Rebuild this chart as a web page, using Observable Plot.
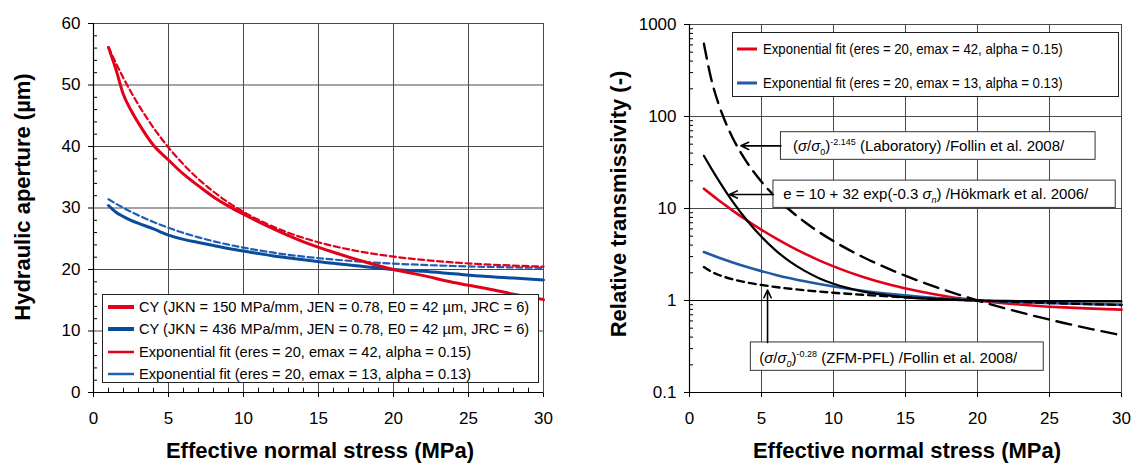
<!DOCTYPE html>
<html>
<head>
<meta charset="utf-8">
<script src="https://cdn.jsdelivr.net/npm/d3@7"></script>
<script src="https://cdn.jsdelivr.net/npm/@observablehq/plot@0.6"></script>
<style>
  html, body { margin: 0; padding: 0; background: #fff; }
  body { width: 1139px; height: 465px; position: relative; overflow: hidden; font-family: "Liberation Sans", Arial, sans-serif; }
  .panel { position: absolute; top: 0; }
  .legend { position: absolute; background: #fff; border: 1px solid #222; box-sizing: border-box; }
  .legend .row { position: absolute; left: 0; right: 0; height: 20px; display: flex; align-items: center; white-space: nowrap; }
  .legend .row svg { flex: none; }
  .legendL { font: 14.6px "Liberation Sans", Arial, sans-serif; }
  .legendR { font: 14px "Liberation Sans", Arial, sans-serif; }
  .legendR span { display: inline-block; transform: scaleX(0.94); transform-origin: 0 50%; }
</style>
</head>
<body>
<div id="L" class="panel" style="left:0px"></div>
<div id="R" class="panel" style="left:570px"></div>
<script>
// ---------------- data ----------------
const stress = [1, 1.5, 2, 2.5, 3, 4, 5, 6, 7, 8, 9, 10, 12, 14, 16, 18, 20, 22, 24, 26, 28, 30];

// Left panel: hydraulic aperture (µm)
const cyRed   = [56.1, 52.5, 48.4, 45.9, 43.8, 40.2, 37.8, 35.5, 33.6, 31.8, 30.3, 29.0, 26.6, 24.5, 22.8, 21.3, 20.0, 19.0, 17.9, 17.0, 16.0, 15.1];
const cyBlue  = [30.4, 29.3, 28.6, 28.0, 27.5, 26.6, 25.6, 24.9, 24.4, 23.9, 23.4, 23.0, 22.2, 21.6, 21.0, 20.5, 20.0, 19.7, 19.3, 18.9, 18.6, 18.3];
const fitRed  = [56.15, 53.54, 51.11, 48.87, 46.77, 43.05, 39.84, 37.08, 34.70, 32.65, 30.88, 29.37, 26.94, 25.14, 23.81, 22.82, 22.09, 21.56, 21.15, 20.85, 20.63, 20.47];
const fitBlue = [31.42, 30.70, 30.02, 29.39, 28.79, 27.72, 26.78, 25.95, 25.23, 24.59, 24.04, 23.55, 22.73, 22.10, 21.62, 21.25, 20.96, 20.74, 20.57, 20.44, 20.34, 20.26];

// Right panel: relative transmissivity (-)
const tRed      = [16.42, 14.24, 12.39, 10.83, 9.49, 7.40, 5.87, 4.73, 3.88, 3.23, 2.73, 2.35, 1.81, 1.47, 1.25, 1.10, 1.00, 0.930, 0.878, 0.841, 0.815, 0.796];
const tBlue     = [3.368, 3.142, 2.938, 2.757, 2.592, 2.313, 2.086, 1.898, 1.744, 1.615, 1.509, 1.418, 1.275, 1.172, 1.097, 1.042, 1.00, 0.969, 0.945, 0.927, 0.914, 0.903];
const tHokmark  = [37.41, 27.44, 20.45, 15.48, 11.90, 7.40, 4.92, 3.49, 2.63, 2.10, 1.75, 1.52, 1.256, 1.124, 1.056, 1.020, 1.00, 0.990, 0.984, 0.981, 0.979, 0.978];
const tLab      = [618, 258.9, 139.6, 86.5, 58.5, 31.57, 19.56, 13.23, 9.51, 7.14, 5.54, 4.42, 2.99, 2.15, 1.614, 1.254, 1.00, 0.815, 0.676, 0.570, 0.486, 0.419];
const tPFL      = [2.31, 2.065, 1.905, 1.790, 1.701, 1.569, 1.474, 1.401, 1.342, 1.292, 1.251, 1.214, 1.154, 1.105, 1.064, 1.030, 1.00, 0.974, 0.950, 0.929, 0.910, 0.893];

// ticks
const xTicks  = [0, 5, 10, 15, 20, 25, 30];
const yTicksL = [0, 10, 20, 30, 40, 50, 60];
const yTicksR = [0.1, 1, 10, 100, 1000];
const xMinorL = d3.range(1, 30).filter(d => d % 5 !== 0);
const yMinorL = d3.range(2, 60, 2).filter(d => d % 10 !== 0);
const yMinorR = [0.1, 1, 10, 100].flatMap(b => d3.range(2, 10).map(k => +(b * k).toPrecision(3)));

// labels
const xTitle = "Effective normal stress (MPa)";
const yTitleL = "Hydraulic aperture (µm)";
const yTitleR = "Relative transmissivity (-)";
const legendLeft = [
  {label: "CY (JKN = 150 MPa/mm, JEN = 0.78, E0 = 42 µm, JRC = 6)", color: "#e3001b", width: 4},
  {label: "CY (JKN = 436 MPa/mm, JEN = 0.78, E0 = 42 µm, JRC = 6)", color: "#0a4c9c", width: 4},
  {label: "Exponential fit (eres = 20, emax = 42, alpha = 0.15)", color: "#e3001b", width: 2.5},
  {label: "Exponential fit (eres = 20, emax = 13, alpha = 0.13)", color: "#1f5fb3", width: 2.5}
];
const legendRight = [
  {label: "Exponential fit (eres = 20, emax = 42, alpha = 0.15)", color: "#e3001b", width: 3},
  {label: "Exponential fit (eres = 20, emax = 13, alpha = 0.13)", color: "#1f5aa6", width: 3}
];

// annotations (right panel, data coordinates)
const annBoxes = [
  {x1: 6.35, x2: 28.2, y1: 33.8, y2: 67.5},
  {x1: 5.83, x2: 29.6, y1: 10.15, y2: 20.1},
  {x1: 4.26, x2: 24.6, y1: 0.172, y2: 0.35}
];
const annText = [
  {x: 16.6, y: 47.5, key: "A1", parts: [["("], ["σ", "i"], ["/"], ["σ", "i"], ["0", "sub"], [")"], ["-2.145", "sup"], [" (Laboratory) /Follin et al. 2008/"]]},
  {x: 17.1, y: 14.2, key: "A2", parts: [["e = 10 + 32 exp(-0.3 "], ["σ", "i"], ["n", "subi"], [") /Hökmark et al. 2006/"]]},
  {x: 13.8, y: 0.234, key: "A3", parts: [["("], ["σ", "i"], ["/"], ["σ", "i"], ["0", "subi"], [")"], ["-0.28", "sup"], [" (ZFM-PFL) /Follin et al. 2008/"]]}
];
const annArrows = [
  {x1: 6.35, y1: 48.0, x2: 3.57, y2: 48.0},
  {x1: 5.83, y1: 14.2, x2: 2.78, y2: 14.2},
  {x1: 5.42, y1: 0.35, x2: 5.42, y2: 1.30}
];

// ---------------- helpers ----------------
const rows = (ys) => stress.map((x, i) => ({x, y: ys[i]}));
const FONT = "'Liberation Sans', Arial, sans-serif";
const GRID = "#4a4a4a";

function addTitles(svg, yTitle, yX, yY, xX) {
  const s = d3.select(svg);
  s.append("text")
    .attr("transform", `translate(${yX},${yY}) rotate(-90)`)
    .attr("text-anchor", "middle")
    .style("font", `bold 22px ${FONT}`).attr("fill", "#000")
    .text(yTitle);
  s.append("text")
    .attr("x", xX).attr("y", 458)
    .attr("text-anchor", "middle")
    .style("font", `bold 22px ${FONT}`).attr("fill", "#000")
    .text(xTitle);
}

function addLegend(container, items, cls, left, top, w, h, rowCenters, sampleX, sampleW, textGap) {
  const div = d3.select(container).append("div")
    .attr("class", "legend " + cls)
    .style("left", left + "px").style("top", top + "px")
    .style("width", w + "px").style("height", h + "px");
  items.forEach((it, i) => {
    const r = div.append("div").attr("class", "row").style("top", (rowCenters[i] - 10) + "px").style("padding-left", sampleX + "px");
    const sv = r.append("svg").attr("width", sampleW + textGap).attr("height", 20);
    sv.append("line").attr("x1", 0).attr("x2", sampleW).attr("y1", 10).attr("y2", 10)
      .attr("stroke", it.color).attr("stroke-width", it.width);
    r.append("span").text(it.label);
  });
}

// ---------------- left panel ----------------
const left = Plot.plot({
  width: 570, height: 465,
  marginLeft: 93, marginRight: 27, marginTop: 23, marginBottom: 73,
  style: {fontFamily: FONT, fontSize: "17px", background: "white", color: "black", overflow: "visible"},
  x: {domain: [0, 30], ticks: xTicks, tickSize: 5, tickPadding: 14, label: null},
  y: {domain: [0, 60], ticks: yTicksL, tickSize: 5, tickPadding: 8, label: null},
  marks: [
    Plot.ruleX(xTicks.slice(1, -1), {stroke: GRID, strokeWidth: 1}),
    Plot.ruleY(yTicksL.slice(1, -1), {stroke: GRID, strokeWidth: 1}),
    Plot.frame({stroke: GRID, strokeWidth: 1}),
    Plot.ruleX(xMinorL, {y1: 0, y2: 0.7, stroke: "#000", strokeWidth: 1}),
    Plot.ruleY(yMinorL, {x1: 0, x2: 0.27, stroke: "#000", strokeWidth: 1}),
    Plot.ruleX([0], {stroke: "#000", strokeWidth: 1.2}),
    Plot.ruleY([0], {stroke: "#000", strokeWidth: 1.2}),
    Plot.line(rows(fitBlue), {x: "x", y: "y", stroke: "#1f5fb3", strokeWidth: 2.2, strokeDasharray: "6,3.5", curve: "monotone-x"}),
    Plot.line(rows(fitRed), {x: "x", y: "y", stroke: "#e3001b", strokeWidth: 2.2, strokeDasharray: "6,3.5", curve: "monotone-x"}),
    Plot.line(rows(cyBlue), {x: "x", y: "y", stroke: "#0a4c9c", strokeWidth: 3, curve: "monotone-x"}),
    Plot.line(rows(cyRed), {x: "x", y: "y", stroke: "#e3001b", strokeWidth: 3, curve: "monotone-x"})
  ]
});
document.getElementById("L").appendChild(left);
addTitles(left, yTitleL, 30, 197, 320);
addLegend(document.body, legendLeft, "legendL", 102, 294, 437, 89, [12, 34, 57, 79], 5, 26, 5);

// ---------------- right panel ----------------
const right = Plot.plot({
  width: 569, height: 465,
  marginLeft: 119, marginRight: 18, marginTop: 24, marginBottom: 73,
  style: {fontFamily: FONT, fontSize: "17px", background: "white", color: "black", overflow: "visible"},
  x: {domain: [0, 30], ticks: xTicks, tickSize: 5, tickPadding: 14, label: null},
  y: {type: "log", domain: [0.1, 1000], ticks: yTicksR, tickFormat: d => String(d), tickSize: 5, tickPadding: 8, label: null},
  marks: [
    Plot.ruleX(xTicks.slice(1, -1), {stroke: GRID, strokeWidth: 1}),
    Plot.ruleY(yTicksR.slice(1, -1), {stroke: GRID, strokeWidth: 1}),
    Plot.ruleY([1], {stroke: "#000", strokeWidth: 1.2}),
    Plot.frame({stroke: GRID, strokeWidth: 1}),
    Plot.ruleY(yMinorR, {x1: 0, x2: 0.28, stroke: "#000", strokeWidth: 1}),
    Plot.ruleX([0], {stroke: "#000", strokeWidth: 1.2}),
    Plot.ruleY([0.1], {stroke: "#000", strokeWidth: 1.2}),
    Plot.line(rows(tRed), {x: "x", y: "y", stroke: "#e3001b", strokeWidth: 2.6, curve: "monotone-x"}),
    Plot.line(rows(tBlue), {x: "x", y: "y", stroke: "#1f5aa6", strokeWidth: 2.6, curve: "monotone-x"}),
    Plot.line(rows(tHokmark), {x: "x", y: "y", stroke: "#000", strokeWidth: 2.2, curve: "monotone-x"}),
    Plot.line(rows(tPFL), {x: "x", y: "y", stroke: "#000", strokeWidth: 2.4, strokeDasharray: "7,5", curve: "monotone-x"}),
    Plot.line(rows(tLab), {x: "x", y: "y", stroke: "#000", strokeWidth: 2.4, strokeDasharray: "15,8", curve: "monotone-x"}),
    Plot.rect(annBoxes, {x1: "x1", x2: "x2", y1: "y1", y2: "y2", fill: "white", stroke: "#333", strokeWidth: 1}),
    Plot.arrow(annArrows, {x1: "x1", y1: "y1", x2: "x2", y2: "y2", stroke: "#000", strokeWidth: 1.6, headLength: 8, headAngle: 50}),
    Plot.text(annText, {x: "x", y: "y", text: "key", fontSize: 15, fill: "#000"})
  ]
});
document.getElementById("R").appendChild(right);
addTitles(right, yTitleR, 56, 204, 337);
addLegend(document.body, legendRight, "legendR", 732, 32, 387, 65, [16, 50], 4, 20, 6);

// rich text for annotation labels (italic sigma, sub/superscripts)
d3.select(right).selectAll("text").each(function () {
  const t = d3.select(this);
  const ann = annText.find(a => a.key === t.text());
  if (!ann) return;
  t.text(null);
  let shift = 0;
  ann.parts.forEach(([str, kind]) => {
    const ts = t.append("tspan").text(str);
    let target = 0;
    if (kind === "sub" || kind === "subi") { target = 4; ts.attr("font-size", 9); }
    if (kind === "sup") { target = -6; ts.attr("font-size", 9); }
    if (kind === "i" || kind === "subi") ts.attr("font-style", "italic");
    if (target !== shift) { ts.attr("dy", target - shift); shift = target; }
  });
});
</script>
</body>
</html>
